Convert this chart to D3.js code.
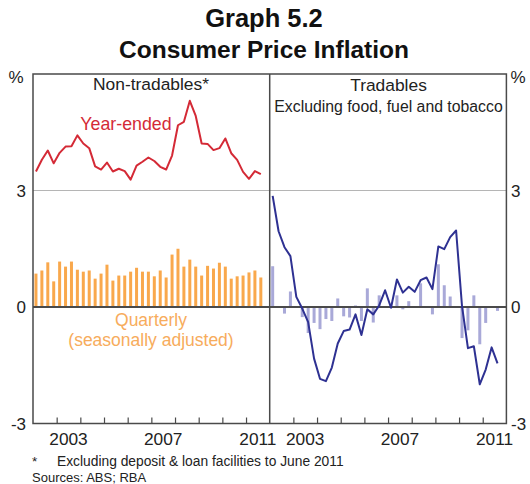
<!DOCTYPE html>
<html><head><meta charset="utf-8">
<script src="https://cdn.jsdelivr.net/npm/d3@7"></script>
<style>body{margin:0;background:#fff}svg{display:block}text{font-family:"Liberation Sans",Arial,sans-serif}</style>
</head><body>
<script>
// Quarters: March 2002 to September 2011
const quarters = ["2002Q1","2002Q2","2002Q3","2002Q4","2003Q1","2003Q2","2003Q3","2003Q4","2004Q1","2004Q2","2004Q3","2004Q4","2005Q1","2005Q2","2005Q3","2005Q4","2006Q1","2006Q2","2006Q3","2006Q4","2007Q1","2007Q2","2007Q3","2007Q4","2008Q1","2008Q2","2008Q3","2008Q4","2009Q1","2009Q2","2009Q3","2009Q4","2010Q1","2010Q2","2010Q3","2010Q4","2011Q1","2011Q2","2011Q3"];
const nonTradYearEnded = [3.49,3.79,4.03,3.70,3.97,4.13,4.14,4.42,4.21,4.09,3.62,3.54,3.72,3.49,3.56,3.50,3.28,3.64,3.74,3.85,3.76,3.61,3.54,3.90,4.68,4.77,5.31,4.92,4.21,4.20,4.04,4.09,4.34,3.96,3.79,3.48,3.30,3.50,3.42];
const nonTradQuarterly = [0.86,0.94,1.15,0.66,1.17,1.04,1.17,0.96,0.91,0.94,0.73,0.86,1.09,0.68,0.81,0.81,0.91,1.01,0.91,0.91,0.79,0.94,0.76,1.35,1.50,1.04,1.22,1.04,0.81,1.06,0.99,1.14,1.04,0.73,0.79,0.81,0.89,0.94,0.76];
const tradYearEnded = [2.86,1.95,1.54,1.31,0.26,-0.04,-0.39,-1.33,-1.85,-1.91,-1.56,-0.94,-0.62,-0.58,-0.19,-0.72,-0.06,-0.19,0.04,0.43,-0.02,0.71,0.37,0.52,0.39,0.69,0.76,0.46,1.56,1.49,1.80,1.97,0.02,-1.06,-1.01,-1.99,-1.61,-1.04,-1.45];
const tradQuarterly = [1.05,0.00,-0.17,0.40,0.02,-0.26,-0.67,-0.41,-0.57,-0.31,-0.36,0.22,-0.24,-0.27,0.04,-0.36,0.48,-0.40,0.30,0.02,0.00,0.30,-0.06,0.15,0.02,0.61,0.02,-0.19,1.10,0.56,0.27,0.02,-0.80,-0.60,0.30,-0.96,-0.41,0.02,-0.10];
const yTicks = [-3, 0, 3];
const yearLabels = [2003, 2007, 2011];
const yearTicks = [2003,2004,2005,2006,2007,2008,2009,2010,2011];

const W = 530, H = 484;
const svg = d3.select("body").append("svg").attr("width", W).attr("height", H);
const pTop = 74, pBottom = 423.5, pLeft = 33, pMid = 269.7, pRight = 506.4;
const y = d3.scaleLinear().domain([-3, 6]).range([pBottom, pTop]);
const xL = d3.scaleLinear().domain([2002, 2012]).range([pLeft, pMid]);
const xR = d3.scaleLinear().domain([2002, 2012]).range([pMid, pRight]);
const qPos = q => +q.slice(0,4) + (+q.slice(5) - 0.5) / 4;
const bw = 3;

const C = {red:"#d42a36", orange:"#f9a84c", orangeText:"#f7ac5c", blue:"#2e3192", lilac:"#a9a9d8", axis:"#4a4a4a", grid:"#b5b5b5", text:"#222"};

// title
svg.append("text").attr("x", 264).attr("y", 27).attr("text-anchor","middle").attr("font-size", 25.5).attr("font-weight","bold").attr("fill","#111").text("Graph 5.2");
svg.append("text").attr("x", 264).attr("y", 58).attr("text-anchor","middle").attr("font-size", 24.5).attr("font-weight","bold").attr("fill","#111").text("Consumer Price Inflation");

// grid line at 3
svg.append("line").attr("x1", pLeft).attr("x2", pRight).attr("y1", y(3)).attr("y2", y(3)).attr("stroke", C.grid).attr("stroke-width", 1);

function bars(x, quarterly, barColor) {
  svg.append("g").selectAll("rect").data(quarters).join("rect")
    .attr("x", (q) => x(qPos(q)) - bw/2)
    .attr("width", bw)
    .attr("y", (q,i) => y(Math.max(0, quarterly[i])))
    .attr("height", (q,i) => Math.abs(y(quarterly[i]) - y(0)))
    .attr("fill", barColor);
}
bars(xL, nonTradQuarterly, C.orange);
bars(xR, tradQuarterly, C.lilac);

// zero line
svg.append("line").attr("x1", pLeft).attr("x2", pRight).attr("y1", y(0)).attr("y2", y(0)).attr("stroke", C.axis).attr("stroke-width", 2);

// lines
const lineL = d3.line().x((q) => xL(qPos(q))).y((q,i) => y(nonTradYearEnded[i]));
const lineR = d3.line().x((q) => xR(qPos(q))).y((q,i) => y(tradYearEnded[i]));
svg.append("path").attr("d", lineL(quarters)).attr("fill","none").attr("stroke", C.red).attr("stroke-width", 2).attr("stroke-linejoin","round");
svg.append("path").attr("d", lineR(quarters)).attr("fill","none").attr("stroke", C.blue).attr("stroke-width", 2).attr("stroke-linejoin","round");

// frame
svg.append("rect").attr("x", pLeft).attr("y", pTop).attr("width", pRight-pLeft).attr("height", pBottom-pTop).attr("fill","none").attr("stroke", C.axis).attr("stroke-width", 1.5);
svg.append("line").attr("x1", pMid).attr("x2", pMid).attr("y1", pTop).attr("y2", pBottom).attr("stroke", C.axis).attr("stroke-width", 1.5);

// x axes (ticks inside, labels below)
[xL, xR].forEach(x => {
  const ax = d3.axisBottom(x).tickValues(yearTicks).tickSize(-6).tickFormat("");
  const g = svg.append("g").attr("transform", `translate(0,${pBottom})`).call(ax);
  g.select(".domain").remove();
  g.selectAll(".tick line").attr("stroke", C.axis).attr("stroke-width", 1.2);
  svg.append("g").selectAll("text").data(yearLabels).join("text")
    .attr("x", d => x(d + 0.5)).attr("y", 445).attr("text-anchor","middle")
    .attr("font-size", 17.3).attr("fill", C.text).text(d => d);
});

// y axes labels
svg.append("g").selectAll("text").data(yTicks).join("text")
  .attr("x", 26).attr("y", d => y(d) + 6).attr("text-anchor","end").attr("font-size", 17).attr("fill", C.text).text(d => d);
svg.append("g").selectAll("text").data(yTicks).join("text")
  .attr("x", 511).attr("y", d => y(d) + 6).attr("text-anchor","start").attr("font-size", 17).attr("fill", C.text).text(d => d);
svg.append("text").attr("x", 16).attr("y", 83).attr("text-anchor","middle").attr("font-size", 17).attr("fill", C.text).text("%");
svg.append("text").attr("x", 518).attr("y", 83).attr("text-anchor","middle").attr("font-size", 17).attr("fill", C.text).text("%");

// panel titles and annotations
svg.append("text").attr("x", 151).attr("y", 90).attr("text-anchor","middle").attr("font-size", 17.4).attr("fill", C.text).text("Non-tradables*");
svg.append("text").attr("x", 388.5).attr("y", 90.5).attr("text-anchor","middle").attr("font-size", 17.4).attr("fill", C.text).text("Tradables");
svg.append("text").attr("x", 388.5).attr("y", 111.5).attr("text-anchor","middle").attr("font-size", 15.8).attr("fill", C.text).text("Excluding food, fuel and tobacco");
svg.append("text").attr("x", 126).attr("y", 130).attr("text-anchor","middle").attr("font-size", 17.8).attr("fill", C.red).text("Year-ended");
svg.append("text").attr("x", 151).attr("y", 326).attr("text-anchor","middle").attr("font-size", 17.5).attr("fill", C.orangeText).text("Quarterly");
svg.append("text").attr("x", 151).attr("y", 346).attr("text-anchor","middle").attr("font-size", 17.5).attr("fill", C.orangeText).text("(seasonally adjusted)");

// footnotes
svg.append("text").attr("x", 32).attr("y", 466).attr("font-size", 13.5).attr("fill", C.text).text("*");
svg.append("text").attr("x", 57).attr("y", 466).attr("font-size", 13.8).attr("fill", C.text).text("Excluding deposit & loan facilities to June 2011");
svg.append("text").attr("x", 32).attr("y", 482).attr("font-size", 13).attr("fill", C.text).text("Sources: ABS; RBA");
</script>
</body></html>
